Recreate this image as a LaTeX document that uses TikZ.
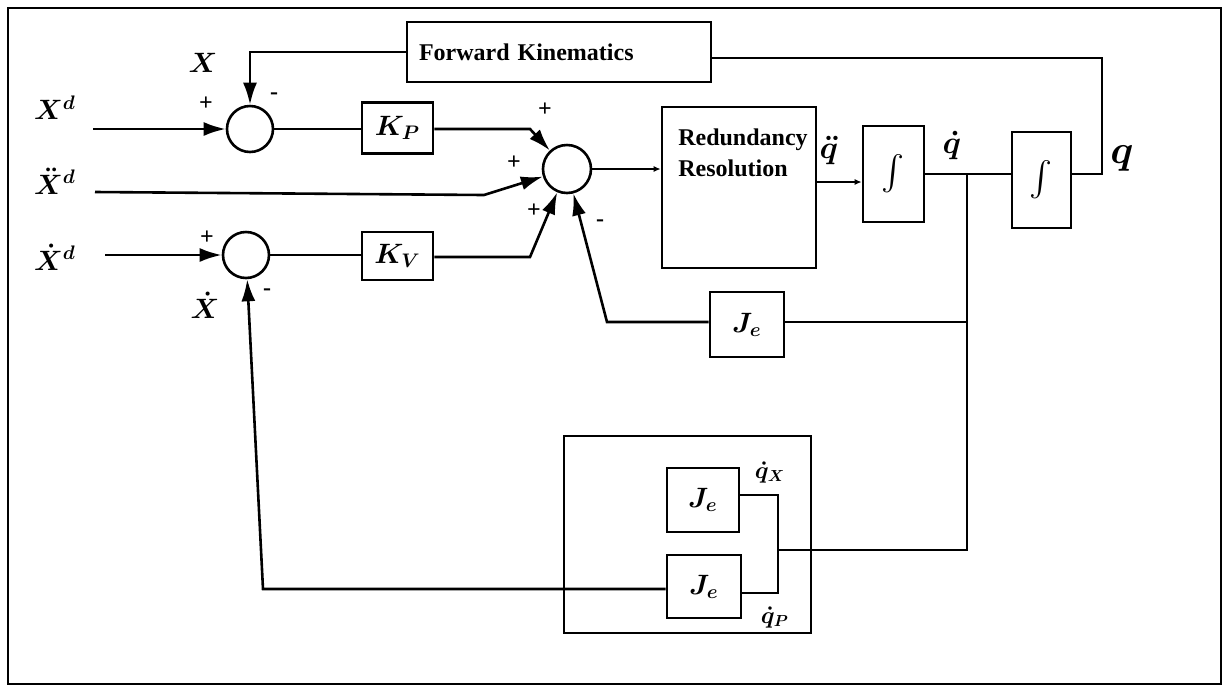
\documentclass[tikz,border=0pt]{standalone}
\usepackage{fix-cm}
\usepackage{amsmath}
\usepackage{fontspec}
\setmainfont{Liberation Serif}
\usetikzlibrary{arrows.meta,calc}
\begin{document}
\begin{tikzpicture}[x=0.5pt,y=-0.5pt, line width=1.3pt,
 blk/.style={draw, inner sep=0pt, font=\fontsize{14}{16}\selectfont\boldmath},
 plainbox/.style={draw, inner sep=0pt},
 sumc/.style={draw, circle, minimum size=23pt, inner sep=0pt},
 arr/.style={-{Latex[length=11pt,width=7pt]}},
 sarr/.style={-{Latex[length=3.5pt,width=3pt]}},
 lbl/.style={font=\fontsize{14}{16}\selectfont\boldmath, inner sep=0pt},
 sgn/.style={font=\bfseries\fontsize{12}{14}\selectfont, inner sep=0pt},
 txt/.style={font=\bfseries\fontsize{12}{15.5}\selectfont}]
\useasboundingbox (0,0) rectangle (1228,692);
\draw[line width=1pt] (8,8) rectangle (1221,684);

% blocks
\node[draw, txt, minimum height=30pt, text width=140pt, inner xsep=6pt, align=left] (fk) at (559,52) {Forward Kinematics};
\node[plainbox, minimum width=77pt, minimum height=80.5pt] (rr) at (739,187.5) {};
\node[txt, anchor=north west, align=left, inner sep=0pt] (rrt) at (677,128) {Redundancy\\Resolution};
\node[sumc] (s1) at (250,129) {};
\node[sumc, minimum size=24pt] (s2) at (567,169) {};
\node[sumc] (s3) at (246,255) {};
\node[blk, minimum width=35.5pt, minimum height=25.5pt] (kp) at (397.5,128) {$K_P$};
\node[blk, minimum width=35.5pt, minimum height=24pt] (kv) at (397.5,256) {$K_V$};
\node[blk, minimum width=37pt, minimum height=32.5pt] (je1) at (747,324.5) {$J_e$};
\node[blk, font=\fontsize{19}{21}\selectfont, minimum width=30.5pt, minimum height=48pt] (i1) at (893.5,174) {$\int$};
\node[blk, font=\fontsize{19}{21}\selectfont, minimum width=29.5pt, minimum height=48pt] (i2) at (1041.5,180) {$\int$};
\node[plainbox, minimum width=123.5pt, minimum height=98.5pt] (grp) at (687.5,534.5) {};
\node[blk, minimum width=36pt, minimum height=32pt] (je2) at (703,500) {$J_e$};
\node[blk, minimum width=37pt, minimum height=31.5pt] (je3) at (704,586.5) {$J_e$};

% coordinates
\coordinate (xdin) at (93,129);
\coordinate (c1) at (530,129);
\coordinate (xdd0) at (95,192);
\coordinate (xdd1) at (484,195);
\coordinate (xd0) at (105,255);
\coordinate (c2) at (530,257);
\coordinate (c3) at (607,322);
\coordinate (c4) at (816,182);
\coordinate (j1) at (967,174);
\coordinate (j2) at (967,550);
\coordinate (j3) at (778,550);
\coordinate (qc) at (1102,174);
\coordinate (k1) at (778,495);
\coordinate (k2) at (778,593);
\coordinate (xdf) at (263,589);

% connectors
\draw[arr] (xdin) -- (s1);
\draw[arr] (fk.west) -| (s1.north);
\draw (s1.east) -- (s1.east -| kp.west);
\draw[arr] (kp.east |- c1) -- (c1) -- (s2);
\draw[arr] (xdd0) -- (xdd1) -- (s2);
\draw[arr] (xd0) -- (s3);
\draw (s3.east) -- (s3.east -| kv.west);
\draw[arr] (kv.east |- c2) -- (c2) -- (s2);
\draw[arr] (je1.west |- c3) -- (c3) -- (s2);
\draw (je1.east |- c3) -- (c3 -| j1);
\draw[sarr] (s2.east) -- (s2.east -| rr.west);
\draw[sarr] (c4) -- (c4 -| i1.west);
\draw (i1.east) -- (i1.east -| i2.west);
\draw (j1) -- (j2) -- (j3);
\draw (i2.east |- qc) -- (qc) |- ($(fk.east)+(0,6)$);
\draw (je2.east |- k1) -- (k1) -- (k2) -- (k2 -| je3.east);
\draw[arr] (je3.west |- xdf) -- (xdf) -- (s3);

% labels
\node[lbl] at (203,63) {$X$};
\node[lbl] at (55,108) {$X^{d}$};
\node[lbl] at (55,181) {$\ddot{X}^{d}$};
\node[lbl] at (55,257) {$\dot{X}^{d}$};
\node[lbl] at (205,305) {$\dot{X}$};
\node[lbl, font=\fontsize{16}{18}\selectfont\boldmath] at (829,150) {$\ddot{q}$};
\node[lbl, font=\fontsize{16}{18}\selectfont\boldmath] at (952,145) {$\dot{q}$};
\node[lbl, font=\fontsize{20}{22}\selectfont\boldmath] at (1122,158) {$q$};
\node[lbl, font=\fontsize{12}{14}\selectfont\boldmath] at (770,472) {$\dot{q}_{X}$};
\node[lbl, font=\fontsize{12}{14}\selectfont\boldmath] at (775,617) {$\dot{q}_{P}$};

% signs
\node[sgn] at (206,104) {+};
\node[sgn] at (274,96) {-};
\node[sgn] at (545,110) {+};
\node[sgn] at (514,163) {+};
\node[sgn] at (534,211) {+};
\node[sgn] at (600,223) {-};
\node[sgn] at (207,238) {+};
\node[sgn] at (267,292) {-};
\end{tikzpicture}
\end{document}
